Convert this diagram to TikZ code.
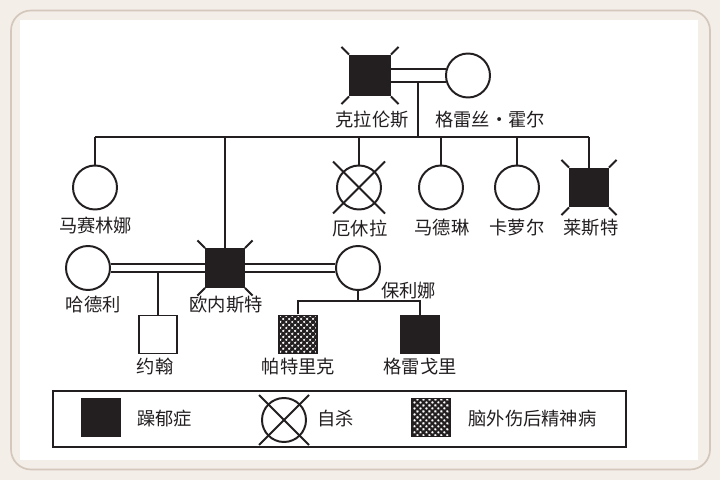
\documentclass[tikz,border=0pt]{standalone}
\usepackage{fontspec}
\setmainfont{Noto Sans CJK SC}
\usepackage{tikz}
\usetikzlibrary{positioning,patterns.meta}

\definecolor{ink}{HTML}{231F20}
\definecolor{paper}{HTML}{F3EEE8}
\definecolor{frameline}{HTML}{D4C7BB}

\tikzset{
  male/.style={draw=ink, rectangle, minimum size=0.95cm, inner sep=0pt},
  female/.style={draw=ink, circle, minimum size=1.1cm, inner sep=0pt},
  manic/.style={fill=ink},
  braininj/.style={
    pattern={Lines[angle=45,distance=3pt,line width=1.6pt]}, pattern color=ink,
    path picture={\fill[pattern={Lines[angle=-45,distance=3pt,line width=1.6pt]}, pattern color=ink]
      (path picture bounding box.south west) rectangle (path picture bounding box.north east);}},
  namelabel/.style={font=\fontsize{13}{15}\selectfont, text=ink, inner sep=1pt},
}

% short strokes on the corners of a square
\newcommand\cornerticks[1]{%
  \foreach \c/\dx/\dy in {north east/1/1, north west/-1/1, south east/1/-1, south west/-1/-1}
    \draw[ink] (#1.\c) -- ++(0.19*\dx,0.19*\dy);}
% cross through a circle
\newcommand\crossout[2]{%
  \draw[ink] (#1.center) ++(-#2,-#2) -- ++(2*#2,2*#2);
  \draw[ink] (#1.center) ++(-#2,#2) -- ++(2*#2,-2*#2);}

\begin{document}
\begin{tikzpicture}[line width=1.4pt, draw=ink]
  % page
  \fill[paper] (0,0) rectangle (18,12);
  \fill[white] (0.5,0.5) rectangle (17.45,11.5);
  \draw[frameline, line width=1.2pt, rounded corners=0.5cm] (0.275,0.2625) rectangle (17.75,11.7375);
  \useasboundingbox (0,0) rectangle (18,12);

  % first generation
  \node[male, manic, minimum size=1cm] (clarence) at (9.25,10.1125) {};
  \node[female] (grace) at (11.7,10.1125) {};
  \cornerticks{clarence}
  \draw (clarence.east |- grace.164) -- (grace.164);
  \draw (clarence.east |- grace.196) -- (grace.196);
  \node[namelabel] (clarence-l) at (9.3,9.0) {克拉伦斯};
  \node[namelabel] (grace-l) at (12.25,9.0) {格雷丝・霍尔};

  % second generation
  \coordinate (sibs) at (10.45,8.575);
  \node[female] (marcelina) at (2.375,7.3125) {};
  \node[female] (ursula) at (8.975,7.3125) {};
  \node[female] (madeline) at (11.025,7.3125) {};
  \node[female] (carol) at (12.925,7.3125) {};
  \node[male, manic] (leicester) at (14.725,7.3125) {};
  \node[male, manic] (ernest) at (5.625,5.3) {};
  \crossout{ursula}{0.65}
  \cornerticks{leicester}
  \cornerticks{ernest}
  \draw (sibs |- grace.196) -- (sibs);
  \draw (marcelina.north |- sibs) -- (leicester.north |- sibs);
  \foreach \k in {marcelina,ernest,ursula,madeline,carol,leicester}
    \draw (\k.north) -- (\k.north |- sibs);
  \node[namelabel] (marcelina-l) at (2.39,6.35) {马赛林娜};
  \node[namelabel] (ursula-l) at (9.0,6.3) {厄休拉};
  \node[namelabel] (madeline-l) at (11.05,6.3) {马德琳};
  \node[namelabel] (carol-l) at (12.925,6.3) {卡萝尔};
  \node[namelabel] (leicester-l) at (14.775,6.3) {莱斯特};

  % Ernest's two marriages
  \node[female] (hadley) at (2.2,5.3) {};
  \node[female] (paulina) at (8.95,5.3) {};
  \draw (hadley.9) -- (hadley.9 -| ernest.west);
  \draw (hadley.-9) -- (hadley.-9 -| ernest.west);
  \draw (ernest.east |- paulina.171) -- (paulina.171);
  \draw (ernest.east |- paulina.189) -- (paulina.189);
  \node[namelabel] (hadley-l) at (2.33,4.375) {哈德利};
  \node[namelabel] (ernest-l) at (5.65,4.375) {欧内斯特};
  \node[namelabel] (paulina-l) at (10.22,4.74) {保利娜};

  % third generation
  \node[male] (john) at (3.95,3.6375) {};
  \node[male, braininj] (patrick) at (7.45,3.6375) {};
  \node[male, manic] (gregory) at (10.5,3.6375) {};
  \coordinate (pkids) at (8.95,4.475);
  \draw (john.north) -- (john.north |- hadley.-9);
  \draw (paulina.south) -- (pkids);
  \draw (patrick.north) |- (pkids) -| (gregory.north);
  \node[namelabel] (john-l) at (3.875,2.825) {约翰};
  \node[namelabel] (patrick-l) at (7.46,2.825) {帕特里克};
  \node[namelabel] (gregory-l) at (10.5,2.825) {格雷戈里};

  % key
  \draw (1.3175,0.8325) rectangle (15.65,2.2325);
  \node[male, manic] (key-manic) at (2.525,1.5625) {};
  \node[namelabel] (key-manic-l) at (4.1125,1.525) {躁郁症};
  \node[female] (key-suicide) at (7.1,1.5) {};
  \crossout{key-suicide}{0.625}
  \node[namelabel] (key-suicide-l) at (8.39,1.525) {自杀};
  \node[male, braininj] (key-inj) at (10.775,1.5625) {};
  \node[namelabel] (key-inj-l) at (13.3125,1.525) {脑外伤后精神病};
\end{tikzpicture}
\end{document}
